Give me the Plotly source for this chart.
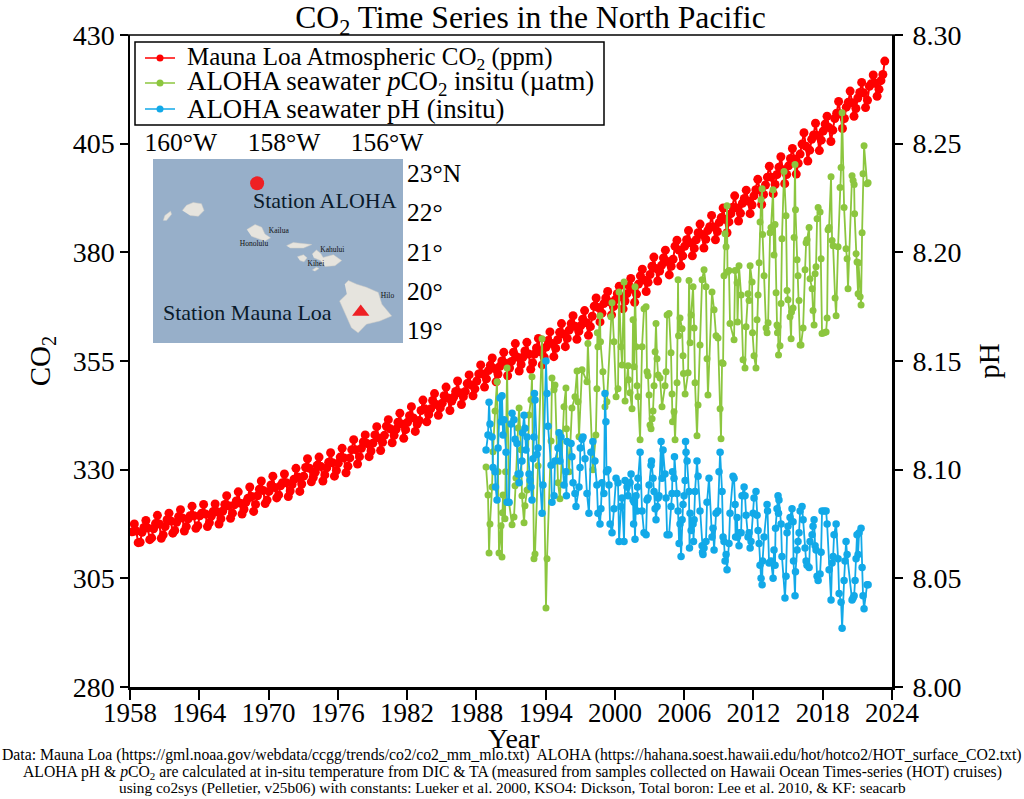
import plotly.graph_objects as go

FONT = "Liberation Serif"

# Mauna Loa CO2, Jan Mar May Jul Sep Nov of every year, starts March 1958, stops May 2023
mlo_years = list(range(1958, 2024))
mlo_months = [1, 3, 5, 7, 9, 11]
mlo_co2 = [
    315.7, 317.5, 315.9, 313.2, 313.3,
    315.6, 316.7, 318.3, 316.6, 313.9, 314.3,
    316.4, 317.6, 319.5, 317.5, 314.2, 315.0,
    316.9, 318.5, 320.0, 318.2, 315.4, 316.0,
    317.9, 319.2, 320.8, 318.9, 315.9, 316.9,
    318.7, 319.4, 321.6, 319.4, 316.5, 317.1,
    319.4, 320.0, 322.0, 319.8, 316.9, 317.8,
    319.3, 320.4, 322.1, 320.3, 317.5, 318.7,
    320.5, 322.0, 324.0, 321.7, 318.8, 320.0,
    321.9, 322.8, 324.9, 322.3, 319.8, 320.9,
    322.5, 323.4, 326.0, 323.8, 320.4, 322.0,
    324.0, 325.5, 327.4, 325.2, 322.2, 323.0,
    325.0, 326.5, 328.5, 325.9, 323.5, 324.2,
    326.3, 327.0, 329.0, 327.0, 323.8, 325.1,
    326.6, 327.8, 330.3, 328.3, 325.0, 326.7,
    328.5, 330.5, 332.5, 330.3, 327.2, 328.2,
    329.4, 331.0, 332.9, 330.7, 327.4, 328.8,
    330.4, 331.7, 333.9, 331.6, 328.5, 329.8,
    331.5, 332.9, 334.9, 332.7, 329.3, 330.8,
    332.7, 334.6, 336.9, 334.6, 331.3, 333.0,
    334.9, 336.4, 338.0, 336.0, 333.0, 334.3,
    336.1, 338.0, 339.9, 337.3, 334.4, 336.3,
    337.9, 340.0, 341.5, 339.4, 336.2, 337.9,
    339.3, 340.9, 343.0, 340.5, 337.2, 339.2,
    340.9, 342.4, 344.5, 341.9, 338.8, 340.5,
    341.3, 343.6, 346.0, 344.0, 341.0, 342.7,
    344.0, 345.9, 347.5, 345.0, 342.5, 344.2,
    345.3, 347.0, 349.0, 346.5, 343.6, 345.8,
    346.7, 348.0, 350.4, 347.7, 345.0, 346.8,
    348.0, 349.8, 351.8, 349.5, 347.0, 348.6,
    350.4, 352.0, 354.1, 352.0, 349.0, 350.9,
    352.8, 354.0, 355.7, 353.3, 350.2, 352.0,
    353.8, 355.0, 357.0, 354.5, 351.6, 353.4,
    354.9, 357.0, 359.0, 355.9, 352.7, 354.2,
    355.9, 357.3, 359.3, 356.6, 353.1, 354.6,
    356.6, 358.0, 360.2, 357.1, 354.1, 355.9,
    358.2, 359.7, 361.7, 359.0, 356.0, 357.9,
    359.9, 361.6, 363.6, 361.2, 358.3, 360.2,
    362.1, 363.6, 365.4, 363.0, 360.0, 361.8,
    363.1, 364.6, 366.6, 363.8, 360.9, 362.9,
    365.3, 367.6, 369.5, 367.3, 364.0, 366.0,
    368.2, 369.5, 371.0, 368.6, 365.6, 367.5,
    369.1, 370.5, 372.2, 369.8, 367.0, 368.8,
    370.5, 372.3, 374.0, 371.5, 368.5, 370.4,
    372.7, 374.6, 376.1, 373.6, 371.0, 373.1,
    374.9, 376.8, 378.9, 376.3, 373.4, 375.7,
    377.0, 378.7, 380.5, 377.9, 374.8, 376.8,
    378.4, 381.4, 382.8, 380.5, 376.9, 379.2,
    381.4, 382.9, 385.0, 382.2, 379.2, 380.9,
    382.9, 384.5, 386.5, 384.1, 381.0, 383.0,
    385.0, 385.9, 388.5, 385.8, 382.9, 384.8,
    386.9, 388.0, 390.2, 387.6, 384.5, 387.0,
    388.9, 390.4, 393.0, 390.2, 387.2, 389.0,
    391.3, 392.4, 394.3, 391.8, 388.9, 390.9,
    393.0, 394.4, 396.8, 394.3, 391.0, 393.3,
    395.5, 397.3, 399.8, 397.3, 393.5, 395.6,
    397.9, 399.6, 402.0, 399.0, 395.8, 397.9,
    399.9, 401.6, 403.9, 401.5, 398.0, 400.5,
    402.6, 404.9, 407.5, 404.4, 401.0, 403.5,
    406.0, 407.0, 409.7, 406.9, 403.4, 405.8,
    407.9, 409.5, 411.3, 408.7, 405.5, 408.1,
    410.8, 412.0, 414.7, 411.8, 408.5, 410.8,
    413.4, 414.5, 417.1, 414.4, 411.3, 413.1,
    415.5, 416.8, 419.1, 416.7, 413.3, 415.0,
    418.2, 418.8, 420.8, 418.9, 415.9, 417.5,
    419.5, 420.9, 424.0,
]
mlo_time = [y + (m - 0.5) / 12 for y in mlo_years for m in mlo_months][1:len(mlo_co2) + 1]

# ALOHA seawater pCO2
pco2_time = [
    1988.84, 1989.01, 1989.10, 1989.18, 1989.36, 1989.44, 1989.62, 1989.79, 1989.88, 1989.96,
    1990.14, 1990.22, 1990.26, 1990.31, 1990.48, 1990.53, 1990.66, 1990.83, 1991.09, 1991.26,
    1991.35, 1991.43, 1991.61, 1991.70, 1991.87, 1991.95, 1992.13, 1992.21, 1992.39, 1992.56,
    1992.73, 1992.82, 1992.99, 1993.08, 1993.34, 1993.69, 1994.03, 1994.12, 1994.47, 1994.55,
    1994.73, 1994.81, 1995.07, 1995.24, 1995.59, 1995.76, 1995.80, 1996.03, 1996.28, 1996.54,
    1996.72, 1996.80, 1996.89, 1997.15, 1997.58, 1997.66, 1998.09, 1998.35, 1998.44, 1998.48,
    1998.53, 1998.71, 1998.75, 1998.96, 1999.14, 1999.31, 1999.66, 1999.75, 1999.92, 2000.10,
    2000.27, 2000.36, 2000.53, 2000.62, 2000.79, 2000.88, 2001.14, 2001.18, 2001.31, 2001.48,
    2001.57, 2001.66, 2001.74, 2001.83, 2001.92, 2002.00, 2002.18, 2002.35, 2002.52, 2002.70,
    2002.78, 2002.87, 2002.96, 2003.04, 2003.13, 2003.22, 2003.30, 2003.39, 2003.48, 2003.56,
    2003.65, 2003.74, 2003.91, 2004.08, 2004.34, 2004.43, 2004.52, 2004.69, 2004.86, 2004.95,
    2004.99, 2005.12, 2005.21, 2005.38, 2005.47, 2005.51, 2005.64, 2005.82, 2005.90, 2005.94,
    2006.08, 2006.34, 2006.42, 2006.51, 2006.60, 2006.77, 2006.86, 2006.94, 2007.11, 2007.20,
    2007.37, 2007.55, 2007.72, 2007.89, 2007.98, 2008.06, 2008.41, 2008.59, 2008.76, 2008.93,
    2009.11, 2009.19, 2009.28, 2009.37, 2009.45, 2009.54, 2009.63, 2009.71, 2009.75, 2009.88,
    2009.97, 2010.32, 2010.41, 2010.58, 2010.62, 2010.75, 2010.93, 2011.10, 2011.27, 2011.36,
    2011.53, 2011.62, 2011.71, 2011.88, 2011.92, 2012.05, 2012.22, 2012.31, 2012.40, 2012.49,
    2012.57, 2012.66, 2012.75, 2012.79, 2012.92, 2013.09, 2013.18, 2013.27, 2013.44, 2013.52,
    2013.70, 2013.78, 2013.87, 2013.96, 2014.04, 2014.08, 2014.13, 2014.17, 2014.30, 2014.39,
    2014.47, 2014.65, 2014.82, 2014.91, 2014.99, 2015.17, 2015.26, 2015.30, 2015.43, 2015.52,
    2015.60, 2015.64, 2015.78, 2015.86, 2015.95, 2016.04, 2016.12, 2016.30, 2016.47, 2016.56,
    2016.64, 2016.82, 2016.90, 2017.08, 2017.16, 2017.25, 2017.34, 2017.42, 2017.51, 2017.60,
    2017.77, 2017.86, 2017.94, 2018.12, 2018.29, 2018.38, 2018.46, 2018.55, 2018.72, 2018.81,
    2018.90, 2019.07, 2019.16, 2019.33, 2019.50, 2019.59, 2019.68, 2019.85, 2020.02, 2020.11,
    2020.19, 2020.54, 2020.63, 2020.72, 2020.76, 2020.89, 2020.97, 2021.06, 2021.10, 2021.24,
    2021.32, 2021.41, 2021.49, 2021.58, 2021.84, 2021.93,
]
pco2 = [
    330.6, 324.2, 310.8, 317.5, 326.0, 334.1, 343.5, 350.2, 329.5, 310.8,
    317.1, 309.9, 320.1, 324.2, 318.7, 329.5, 353.4, 322.4, 317.3, 319.1,
    326.3, 328.1, 339.6, 344.2, 334.6, 324.0, 317.8, 321.7, 325.3, 342.6,
    346.1, 351.4, 309.5, 310.6, 330.9, 360.1, 298.2, 309.5, 336.6, 351.1,
    348.4, 349.5, 327.0, 323.3, 344.5, 348.8, 339.4, 329.5, 344.2, 346.8,
    352.7, 345.6, 337.6, 353.0, 350.2, 359.0, 330.0, 338.0, 348.6, 361.5,
    358.3, 365.4, 359.4, 352.5, 344.5, 345.6, 365.2, 368.4, 359.4, 346.8,
    348.6, 370.9, 358.3, 354.1, 373.2, 345.8, 353.9, 350.7, 347.7, 344.0,
    364.5, 353.7, 372.1, 358.3, 349.3, 346.8, 336.9, 358.3, 367.0, 367.5,
    352.5, 351.6, 347.2, 340.3, 339.4, 341.7, 343.5, 349.3, 357.1, 363.6,
    355.5, 351.8, 351.1, 344.5, 349.3, 352.5, 365.6, 365.9, 356.9, 347.4,
    341.0, 343.3, 336.9, 350.0, 373.7, 360.8, 364.9, 362.4, 356.2, 352.1,
    347.4, 352.3, 373.5, 359.2, 365.6, 372.1, 362.6, 350.0, 337.8, 344.9,
    358.7, 373.7, 376.0, 372.1, 355.5, 347.2, 370.9, 366.8, 360.8, 360.3,
    344.0, 337.1, 354.6, 354.4, 374.6, 384.3, 381.3, 390.7, 375.5, 375.8,
    363.6, 359.9, 375.8, 373.0, 364.0, 376.9, 370.2, 355.3, 353.4, 362.9,
    370.5, 368.9, 376.9, 373.2, 361.5, 356.2, 353.4, 364.5, 370.2, 377.6,
    387.0, 392.1, 394.6, 384.1, 374.6, 362.6, 361.5, 363.8, 384.5, 385.7,
    394.4, 379.4, 386.4, 370.7, 363.3, 361.5, 362.9, 356.4, 358.5, 368.2,
    383.1, 398.6, 388.4, 371.2, 369.1, 365.2, 360.1, 366.3, 367.2, 383.4,
    400.2, 389.8, 378.3, 374.6, 368.9, 358.7, 358.7, 362.6, 376.0, 382.2,
    382.9, 385.7, 373.9, 371.6, 366.6, 363.3, 375.1, 376.7, 387.7, 390.3,
    389.3, 378.5, 361.3, 361.5, 361.7, 364.9, 385.2, 385.7, 397.4, 382.7,
    381.5, 369.5, 365.4, 381.3, 394.9, 399.5, 412.1, 390.3, 380.8, 378.5,
    371.6, 397.6, 396.5, 395.6, 388.9, 379.7, 377.8, 370.5, 377.6, 369.8,
    367.9, 384.5, 398.1, 404.5, 395.8, 396.0,
]

# ALOHA seawater pH
ph_time = [
    1988.84, 1989.01, 1989.10, 1989.18, 1989.36, 1989.44, 1989.62, 1989.66, 1989.79, 1989.88,
    1990.05, 1990.14, 1990.22, 1990.31, 1990.40, 1990.57, 1990.66, 1990.83, 1991.00, 1991.09,
    1991.26, 1991.35, 1991.52, 1991.61, 1991.70, 1991.78, 1991.95, 1992.00, 1992.13, 1992.21,
    1992.30, 1992.39, 1992.56, 1992.65, 1992.73, 1992.82, 1992.91, 1992.99, 1993.03, 1993.08,
    1993.25, 1993.34, 1993.69, 1993.77, 1994.03, 1994.12, 1994.21, 1994.47, 1994.55, 1994.73,
    1994.81, 1995.07, 1995.16, 1995.24, 1995.33, 1995.59, 1995.76, 1995.80, 1995.85, 1996.20,
    1996.28, 1996.37, 1996.54, 1996.63, 1996.89, 1996.98, 1997.00, 1997.15, 1997.24, 1997.41,
    1997.58, 1997.75, 1997.92, 1998.09, 1998.27, 1998.44, 1998.53, 1998.71, 1998.79, 1998.88,
    1999.05, 1999.14, 1999.22, 1999.27, 1999.40, 1999.49, 1999.58, 1999.75, 1999.92, 2000.10,
    2000.27, 2000.36, 2000.53, 2000.62, 2000.79, 2000.88, 2001.05, 2001.14, 2001.31, 2001.40,
    2001.57, 2001.62, 2001.66, 2001.74, 2001.83, 2001.92, 2001.96, 2002.00, 2002.18, 2002.35,
    2002.52, 2002.70, 2002.78, 2002.87, 2002.96, 2003.13, 2003.17, 2003.30, 2003.39, 2003.48,
    2003.56, 2003.65, 2003.74, 2003.82, 2004.00, 2004.08, 2004.17, 2004.34, 2004.43, 2004.52,
    2004.69, 2004.86, 2004.95, 2004.99, 2005.12, 2005.16, 2005.38, 2005.47, 2005.56, 2005.64,
    2005.73, 2005.82, 2005.90, 2005.99, 2006.08, 2006.12, 2006.16, 2006.25, 2006.42, 2006.46,
    2006.51, 2006.60, 2006.77, 2006.81, 2006.86, 2006.94, 2007.11, 2007.20, 2007.37, 2007.55,
    2007.59, 2007.63, 2007.72, 2007.89, 2007.98, 2008.15, 2008.41, 2008.50, 2008.59, 2008.76,
    2008.93, 2009.02, 2009.11, 2009.28, 2009.37, 2009.45, 2009.54, 2009.63, 2009.71, 2009.88,
    2009.97, 2010.23, 2010.32, 2010.41, 2010.45, 2010.58, 2010.62, 2010.75, 2010.80, 2010.93,
    2011.01, 2011.19, 2011.27, 2011.36, 2011.53, 2011.62, 2011.71, 2011.79, 2011.97, 2012.05,
    2012.22, 2012.31, 2012.40, 2012.49, 2012.57, 2012.66, 2012.75, 2012.79, 2012.92, 2013.18,
    2013.22, 2013.35, 2013.52, 2013.70, 2013.78, 2013.87, 2013.91, 2014.04, 2014.13, 2014.17,
    2014.21, 2014.39, 2014.47, 2014.73, 2014.82, 2014.91, 2014.99, 2015.17, 2015.34, 2015.43,
    2015.47, 2015.60, 2015.64, 2015.78, 2015.86, 2015.95, 2016.04, 2016.21, 2016.30, 2016.47,
    2016.56, 2016.64, 2016.82, 2016.90, 2017.08, 2017.16, 2017.25, 2017.34, 2017.42, 2017.51,
    2017.60, 2017.77, 2017.86, 2017.94, 2018.12, 2018.29, 2018.38, 2018.55, 2018.72, 2018.81,
    2018.90, 2018.98, 2019.16, 2019.33, 2019.42, 2019.59, 2019.68, 2019.85, 2019.93, 2020.02,
    2020.11, 2020.54, 2020.63, 2020.72, 2020.80, 2020.89, 2020.97, 2021.06, 2021.15, 2021.32,
    2021.41, 2021.49, 2021.58, 2021.84, 2021.93,
]
ph = [
    8.109, 8.116, 8.131, 8.121, 8.115, 8.101, 8.099, 8.092, 8.086, 8.110,
    8.133, 8.122, 8.134, 8.116, 8.123, 8.108, 8.085, 8.085, 8.121, 8.126,
    8.123, 8.114, 8.112, 8.098, 8.094, 8.098, 8.104, 8.117, 8.125, 8.119,
    8.109, 8.115, 8.098, 8.095, 8.092, 8.086, 8.105, 8.115, 8.135, 8.132,
    8.107, 8.110, 8.080, 8.093, 8.150, 8.135, 8.120, 8.102, 8.085, 8.088,
    8.104, 8.110, 8.117, 8.104, 8.115, 8.093, 8.099, 8.088, 8.113, 8.112,
    8.106, 8.094, 8.089, 8.083, 8.092, 8.101, 8.110, 8.114, 8.115, 8.105,
    8.089, 8.080, 8.108, 8.113, 8.104, 8.093, 8.080, 8.075, 8.082, 8.094,
    8.089, 8.135, 8.122, 8.099, 8.100, 8.093, 8.075, 8.071, 8.082, 8.096,
    8.094, 8.067, 8.083, 8.087, 8.067, 8.095, 8.092, 8.088, 8.094, 8.098,
    8.086, 8.075, 8.085, 8.068, 8.088, 8.081, 8.092, 8.096, 8.108, 8.081,
    8.071, 8.070, 8.086, 8.087, 8.093, 8.102, 8.104, 8.096, 8.090, 8.082,
    8.077, 8.083, 8.087, 8.088, 8.113, 8.096, 8.109, 8.098, 8.087, 8.070,
    8.070, 8.083, 8.089, 8.099, 8.096, 8.106, 8.089, 8.081, 8.066, 8.075,
    8.060, 8.077, 8.084, 8.088, 8.095, 8.113, 8.108, 8.104, 8.090, 8.064,
    8.080, 8.072, 8.075, 8.067, 8.077, 8.090, 8.104, 8.097, 8.081, 8.065,
    8.062, 8.061, 8.064, 8.067, 8.085, 8.096, 8.069, 8.073, 8.063, 8.080,
    8.081, 8.099, 8.108, 8.090, 8.069, 8.067, 8.058, 8.061, 8.054, 8.066,
    8.080, 8.097, 8.096, 8.084, 8.069, 8.078, 8.069, 8.065, 8.071, 8.071,
    8.088, 8.092, 8.088, 8.079, 8.069, 8.071, 8.064, 8.067, 8.080, 8.087,
    8.090, 8.079, 8.072, 8.066, 8.056, 8.050, 8.047, 8.058, 8.069, 8.084,
    8.081, 8.057, 8.058, 8.050, 8.063, 8.056, 8.073, 8.082, 8.088, 8.080,
    8.086, 8.075, 8.060, 8.041, 8.051, 8.071, 8.074, 8.078, 8.082, 8.076,
    8.058, 8.042, 8.053, 8.063, 8.067, 8.071, 8.081, 8.083, 8.077, 8.064,
    8.058, 8.056, 8.055, 8.067, 8.070, 8.074, 8.077, 8.065, 8.063, 8.051,
    8.049, 8.052, 8.062, 8.081, 8.081, 8.081, 8.075, 8.054, 8.040, 8.057,
    8.060, 8.070, 8.075, 8.059, 8.043, 8.039, 8.027, 8.049, 8.058, 8.067,
    8.061, 8.040, 8.041, 8.042, 8.049, 8.059, 8.070, 8.061, 8.071, 8.073,
    8.055, 8.042, 8.036, 8.047, 8.047,
]

x_ticks = [1958, 1964, 1970, 1976, 1982, 1988, 1994, 2000, 2006, 2012, 2018, 2024]
co2_ticks = [280, 305, 330, 355, 380, 405, 430]
ph_ticks = [8.00, 8.05, 8.10, 8.15, 8.20, 8.25, 8.30]

# inset map, island outlines in degrees
lon_ticks = [-160, -158, -156]
lon_labels = ["160°W", "158°W", "156°W"]
lat_ticks = [23, 22, 21, 20, 19]
lat_labels = ["23°N", "22°", "21°", "20°", "19°"]
islands = {
    "Kauai": ([-159.97, -159.89, -159.76, -159.60, -159.55, -159.66, -159.82],
              [22.05, 22.18, 22.25, 22.22, 22.05, 21.90, 21.92]),
    "Niihau": ([-160.34, -160.31, -160.20, -160.18, -160.28], [21.79, 21.92, 22.03, 21.95, 21.79]),
    "Oahu": ([-158.72, -158.56, -158.43, -158.37, -158.26, -158.37, -158.50, -158.63],
             [21.56, 21.69, 21.62, 21.45, 21.35, 21.27, 21.33, 21.39]),
    "Molokai": ([-157.95, -157.82, -157.46, -157.62, -157.88], [21.15, 21.23, 21.18, 21.09, 21.09]),
    "Lanai": ([-157.74, -157.62, -157.55, -157.61, -157.69], [20.87, 20.92, 20.84, 20.74, 20.77]),
    "Maui": ([-157.45, -157.37, -157.29, -157.24, -157.04, -156.88, -157.01, -157.20, -157.29, -157.42],
             [20.94, 21.04, 20.96, 20.85, 20.92, 20.77, 20.64, 20.62, 20.77, 20.84]),
    "Kahoolawe": ([-157.45, -157.37, -157.32, -157.40], [20.53, 20.60, 20.57, 20.50]),
    "Hawaii": ([-156.82, -156.75, -156.59, -156.40, -156.17, -156.10, -155.91, -156.14, -156.40, -156.56,
                -156.69, -156.78, -156.92, -156.78],
               [20.17, 20.26, 20.17, 20.09, 19.96, 19.66, 19.36, 19.23, 19.15, 18.93,
                19.06, 19.32, 19.74, 19.92]),
}
towns = ["Kailua", "Honolulu", "Kahului", "Kihei", "Hilo"]
town_lon = [-158.10, -158.58, -157.06, -157.38, -155.99]
town_lat = [21.52, 21.18, 21.04, 20.69, 19.86]

legend_names = [
    "Mauna Loa Atmospheric CO<sub>2</sub> (ppm)",
    "ALOHA seawater <i>p</i>CO<sub>2</sub> insitu (µatm)",
    "ALOHA seawater pH (insitu)",
]
RED, GREEN, BLUE = "#ff0000", "#8cc63f", "#12a9e8"
legend_colors = [RED, GREEN, BLUE]

footnotes = [
    "Data: Mauna Loa (https://gml.noaa.gov/webdata/ccgg/trends/co2/co2_mm_mlo.txt)  ALOHA (https://hahana.soest.hawaii.edu/hot/hotco2/HOT_surface_CO2.txt)",
    "ALOHA pH &amp; <i>p</i>CO<sub>2</sub> are calculated at in-situ temperature from DIC &amp; TA (measured from samples collected on Hawaii Ocean Times-series (HOT) cruises)",
    "using co2sys (Pelletier, v25b06) with constants: Lueker et al. 2000, KSO4: Dickson, Total boron: Lee et al. 2010, &amp; KF: seacarb",
]


# page pixels to paper fractions, for the hand drawn legend
def px(v):
    return (v - 130) / 762


def py(v):
    return (687 - v) / 652


fig = go.Figure()
fig.add_trace(go.Scatter(x=mlo_time, y=mlo_co2, mode="lines+markers", name="Mauna Loa",
                         line=dict(color=RED, width=2), marker=dict(color=RED, size=9)))
fig.add_trace(go.Scatter(x=pco2_time, y=pco2, mode="lines+markers", name="pCO2",
                         line=dict(color=GREEN, width=1.8), marker=dict(color=GREEN, size=7)))
fig.add_trace(go.Scatter(x=ph_time, y=ph, mode="lines+markers", name="pH", yaxis="y2",
                         line=dict(color=BLUE, width=1.8), marker=dict(color=BLUE, size=7.5)))

# map
for name, (lon, lat) in islands.items():
    fig.add_trace(go.Scatter(x=lon, y=lat, xaxis="x3", yaxis="y3", mode="lines", fill="toself", name=name,
                             fillcolor="#e6e4de", line=dict(color="#cfcdc6", width=0.5)))
fig.add_trace(go.Scatter(x=[-158.52], y=[22.74], xaxis="x3", yaxis="y3", mode="markers", name="ALOHA",
                         marker=dict(color="#ee2024", size=14)))
fig.add_trace(go.Scatter(x=[-156.51], y=[19.46], xaxis="x3", yaxis="y3", mode="markers", name="Mauna Loa station",
                         marker=dict(color="#ee2024", size=15, symbol="triangle-up")))
fig.add_trace(go.Scatter(x=town_lon, y=town_lat, xaxis="x3", yaxis="y3", mode="text", text=towns, name="towns",
                         textfont=dict(family=FONT, size=7.5, color="#111111")))

notes = [
    dict(x=-157.20, y=22.29, xref="x3", yref="y3", text="Station ALOHA", showarrow=False,
         font=dict(family=FONT, size=22, color="#0a1a2a")),
    dict(x=-158.70, y=19.44, xref="x3", yref="y3", text="Station Mauna Loa", showarrow=False,
         font=dict(family=FONT, size=22, color="#0a1a2a")),
    dict(x=px(514), y=py(738), xref="paper", yref="paper", text="Year", showarrow=False, yanchor="middle",
         font=dict(family=FONT, size=28, color="black")),
]
for txt, row, size in zip(footnotes, [755, 772, 788], [15.75, 15.7, 15.3]):
    notes.append(dict(x=px(512), y=py(row), xref="paper", yref="paper", text=txt, showarrow=False, xanchor="center",
                      yanchor="middle", font=dict(family=FONT, size=size, color="black")))

# legend drawn by hand, plotly's own rows come out too tall with subscripts
shapes = [
    dict(type="rect", xref="paper", yref="paper", x0=px(153), x1=px(403), y0=py(343), y1=py(159),
         fillcolor="#97afc9", line=dict(width=0), layer="below"),
    dict(type="rect", xref="paper", yref="paper", x0=px(135), x1=px(604), y0=py(125), y1=py(42),
         line=dict(color="black", width=1.5)),
    dict(type="line", xref="paper", yref="paper", x0=px(122), x1=px(900), y0=1, y1=1,
         line=dict(color="black", width=1.5)),
]
for name, color, row, size in zip(legend_names, legend_colors, [58, 83, 109], [25, 26.9, 26.9]):
    shapes.append(dict(type="line", xref="paper", yref="paper", x0=px(145), x1=px(175), y0=py(row), y1=py(row),
                       line=dict(color=color, width=1.5)))
    shapes.append(dict(type="circle", xref="paper", yref="paper", x0=px(156.5), x1=px(163.5), y0=py(row + 3.5),
                       y1=py(row - 3.5), fillcolor=color, line=dict(width=0)))
    notes.append(dict(x=px(185), y=py(row), xref="paper", yref="paper", text=name, showarrow=False, xanchor="left",
                      yanchor="middle", font=dict(family=FONT, size=size, color="black")))

x_font = dict(family=FONT, size=27, color="black")
y_font = dict(family=FONT, size=28, color="black")
map_font = dict(family=FONT, size=25.5, color="black")
fig.update_layout(
    width=1024, height=799, autosize=False, showlegend=False,
    margin=dict(l=130, r=132, t=35, b=112),
    paper_bgcolor="white", plot_bgcolor="rgba(0,0,0,0)",
    font=dict(family=FONT, color="black"),
    title=dict(text="CO<sub>2</sub> Time Series in the North Pacific", x=0.518, xanchor="center", y=0.979, yanchor="middle",
               font=dict(family=FONT, size=31.7, color="black")),
    xaxis=dict(range=[1958, 2024], tickmode="array", tickvals=x_ticks, ticks="outside", ticklen=10, tickwidth=1.5,
               tickcolor="black", tickfont=x_font, ticklabelstandoff=-10, showgrid=False, zeroline=False, showline=True,
               linecolor="black", linewidth=3),
    yaxis=dict(range=[280, 430], tickmode="array", tickvals=co2_ticks, ticks="outside", ticklen=8, tickwidth=1.5,
               tickcolor="black", tickfont=y_font, showgrid=False, zeroline=False, showline=True,
               linecolor="black", linewidth=1.5, title=dict(text="CO<sub>2</sub>", font=dict(family=FONT, size=29), standoff=14)),
    yaxis2=dict(range=[8.0, 8.3], overlaying="y", side="right", tickmode="array", tickvals=ph_ticks, tickformat=".2f",
                ticks="outside", ticklen=8, tickwidth=1.5, tickcolor="black", tickfont=y_font, ticklabelstandoff=4,
                showgrid=False, zeroline=False, showline=True, linecolor="black", linewidth=3,
                title=dict(text="pH", font=dict(family=FONT, size=29), standoff=19)),
    xaxis3=dict(domain=[px(153), px(403)], anchor="y3", side="top", range=[-160.54, -155.69], tickmode="array",
                tickvals=lon_ticks, ticktext=lon_labels, tickfont=map_font, ticks="", ticklabelstandoff=2,
                showgrid=False, zeroline=False, showline=False),
    yaxis3=dict(domain=[py(343), py(159)], anchor="x3", side="right", range=[18.67, 23.36], tickmode="array",
                tickvals=lat_ticks, ticktext=lat_labels, tickfont=map_font, ticks="", ticklabelstandoff=3,
                showgrid=False, zeroline=False, showline=False),
    shapes=shapes,
    annotations=notes,
)

fig.write_html("out.html", config={"displayModeBar": False}, post_script="document.body.style.margin='0'")
